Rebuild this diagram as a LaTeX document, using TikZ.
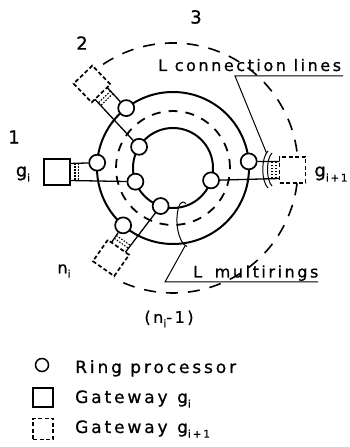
\documentclass[tikz,border=0pt]{standalone}
\usepackage{fontspec}
\setmainfont{DejaVu Sans}
\newfontfamily\labfont{DejaVu Sans}[LetterSpace=16,FakeBold=0.8]
\newfontfamily\legfont{DejaVu Sans}[LetterSpace=17,FakeBold=0.8]
\usetikzlibrary{calc}
\newcommand\lsub[1]{\raisebox{-0.5ex}{\fontsize{10.5}{10.5}\selectfont #1}}
\begin{document}
\begin{tikzpicture}[x=1pt,y=1pt,
  ring/.style={line width=2pt},
  mring/.style={line width=1.8pt, dash pattern=on 9pt off 8pt},
  bigarc/.style={line width=1.6pt, dash pattern=on 12pt off 10pt},
  proc/.style={circle, draw, fill=white, line width=1.7pt, minimum size=16pt, inner sep=0pt},
  gw/.style={draw, fill=white, line width=1.7pt, minimum width=26pt, minimum height=26pt, inner sep=0pt},
  gwd/.style={gw, dash pattern=on 4pt off 2.5pt},
  conn/.style={line width=1.3pt},
  dotl/.style={line width=1.1pt, dash pattern=on 1.5pt off 1.5pt},
  lead/.style={line width=1pt},
  lab/.style={font=\labfont\fontsize{16}{16}\selectfont, inner sep=0pt},
  big/.style={font=\labfont\fontsize{18}{18}\selectfont, inner sep=0pt},
  leg/.style={font=\legfont\fontsize{17}{17}\selectfont, inner sep=0pt},
]
\useasboundingbox (0,0) rectangle (349,447);
\coordinate (C) at (173,279);
% rings
\draw[ring] (C) circle (76pt);
\draw[mring] (C) circle (57pt);
\draw[ring] (C) circle (40pt);
\draw[bigarc] ([shift={(124:125pt)}]C) arc[start angle=124, end angle=-118, radius=125pt];

% gateway g_i
\begin{scope}[shift={(57,275)}]
  \node[gw] (G1) at (0,0) {};
  \coordinate (G1a) at (13,8.5);
  \coordinate (G1b) at (13,-8.5);
  \draw[dotl] (18,8.5) -- (18,-8.5) (21.5,8.5) -- (21.5,-8.5);
\end{scope}
% gateway 2
\begin{scope}[shift={(92,363)}, rotate=-46]
  \node[gwd, transform shape] (G2) at (0,0) {};
  \coordinate (G2a) at (13,8.5);
  \coordinate (G2b) at (13,-8.5);
  \draw[dotl] (18,8.5) -- (18,-8.5) (21.5,8.5) -- (21.5,-8.5);
\end{scope}
% gateway n_i
\begin{scope}[shift={(111,189)}, rotate=55]
  \node[gwd, transform shape] (G3) at (0,0) {};
  \coordinate (G3a) at (13,8.5);
  \coordinate (G3b) at (13,-8.5);
  \draw[dotl] (18,8.5) -- (18,-8.5) (21.5,8.5) -- (21.5,-8.5);
\end{scope}
% gateway g_{i+1}
\begin{scope}[shift={(292.5,277)}, rotate=180]
  \node[gwd, transform shape] (G4) at (0,0) {};
  \coordinate (G4a) at (13,8.5);
  \coordinate (G4b) at (13,-8.5);
  \draw[dotl] (16.5,8.5) -- (16.5,-8.5) (20.5,8.5) -- (20.5,-8.5);
\end{scope}

% processors
\node[proc] (O1) at ([shift={(128:76pt)}]C) {};
\node[proc] (O2) at ([shift={(176:76pt)}]C) {};
\node[proc] (O3) at ([shift={(229:76pt)}]C) {};
\node[proc] (O4) at ([shift={(5:76pt)}]C) {};
\node[proc] (I1) at ([shift={(148:40pt)}]C) {};
\node[proc] (I2) at ([shift={(200:40pt)}]C) {};
\node[proc] (I3) at ([shift={(252:40pt)}]C) {};
\node[proc] (I4) at ([shift={(342:40pt)}]C) {};

% connections
\draw[conn] (G1a) -- (O2);
\draw[conn] (G1b) -- (I2);
\draw[conn] (G2a) -- (O1);
\draw[conn] (G2b) -- (I1);
\draw[conn] (G3a) -- (O3);
\draw[conn] (G3b) -- (I3);
\draw[conn] (G4b) -- (O4);
\draw[conn] (G4a) -- (I4);

% brackets near g_{i+1}
\draw[lead] (268,296) .. controls (261,289) and (261,266) .. (268,259);
\draw[lead] (272,294) .. controls (266,288) and (266,267) .. (272,261);
\coordinate (B1) at (266.5,294);
\coordinate (U1) at (235,371);
\coordinate (U1e) at (343,371);
\draw[lead] (B1) -- (U1) -- (U1e);
\node[lab, anchor=base west] (tcl) at (158,376) {L connection lines};

% bracket multirings
\draw[lead] (187,200.5) .. controls (186,202) .. (184,202.5) .. controls (176,211) and (175,234) .. (180,243) .. controls (182,245.5) and (185,245.5) .. (186,243.5);
\coordinate (B2) at (185,201);
\coordinate (U2) at (165,165);
\coordinate (U2e) at (318,165);
\draw[lead] (B2) -- (U2) -- (U2e);
\node[lab, anchor=base west] (tmr) at (193,169.5) {L\hspace{5pt} multirings};

% labels
\node[big] (l1) at (14,310) {1};
\node[big] (l2) at (82,404) {2};
\node[big] (l3) at (196,430) {3};
\node[big] (lgi) at (23,273) {g\lsub{i}};
\node[big] (lgi1) at (331,273) {g\lsub{i+1}};
\node[lab] (lni) at (64,176) {n\lsub{i}};
\node[lab] (lnm) at (169,128) {(n\lsub{i}-1)};

% legend
\node[proc, minimum size=13pt, line width=1.5pt] (lp) at (42,82) {};
\node[leg, anchor=base west] (lpt) at (75,74) {Ring processor};
\node[gw, minimum width=20pt, minimum height=19pt] (lg1) at (43,49.5) {};
\node[leg, anchor=base west] (lgt1) at (75,44) {Gateway};
\node[leg, anchor=base west] (lgs1) at (177,44) {g\lsub{i}};
\node[gwd, minimum width=20pt, minimum height=21pt] (lg2) at (43,18) {};
\node[leg, anchor=base west] (lgt2) at (75,14) {Gateway};
\node[leg, anchor=base west] (lgs2) at (177,14) {g\lsub{i+1}};
\end{tikzpicture}
\end{document}
